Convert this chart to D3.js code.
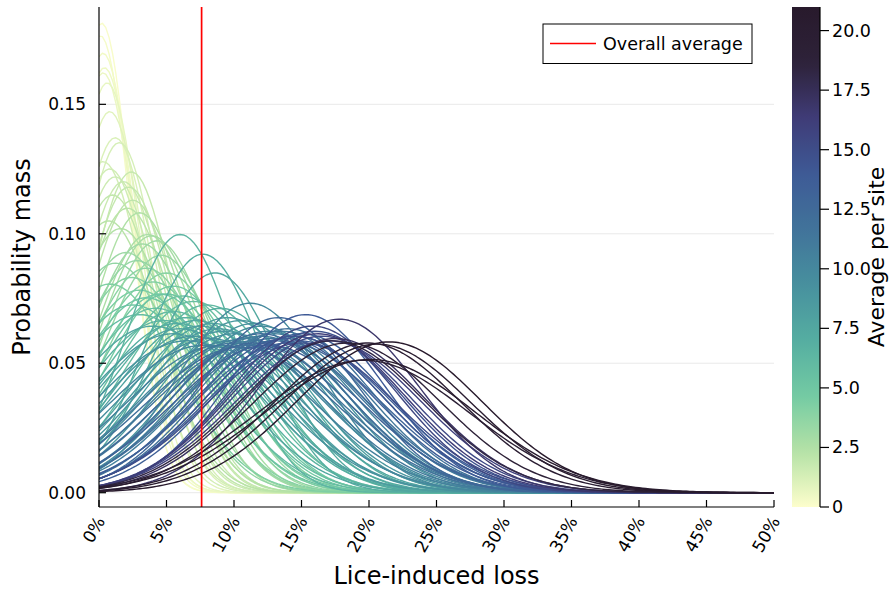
<!DOCTYPE html>
<html>
<head>
<meta charset="utf-8">
<script src="https://cdn.jsdelivr.net/npm/d3@7"></script>
<style>
  body { margin: 0; background: #fff; }
  text { font-family: "DejaVu Sans", sans-serif; fill: #000; }
</style>
</head>
<body>
<svg id="chart" width="889" height="590"></svg>
<script>
// Average lice per site (colour value of each curve)
const siteAvg = [
  0.15, 0.25, 0.35, 0.45, 0.55, 0.7,
  0.9, 1.1, 1.25, 1.35, 1.45, 1.55, 1.65, 1.75, 1.85, 1.95, 2.05, 2.15, 2.25, 2.4, 2.55,
  2.7, 2.85, 3.0, 3.1, 3.2, 3.35, 3.5, 3.6, 3.75, 3.9, 4.0, 4.15, 4.3, 4.45, 4.6, 4.8,
  5.0, 5.15, 5.3, 5.45, 5.6, 5.75, 5.9, 6.05, 6.2, 6.4, 6.55, 6.7, 6.85, 7.0, 7.15, 7.3, 7.4, 7.55, 7.7, 7.85,
  8.0, 8.15, 8.3, 8.45, 8.6, 8.75, 8.9, 9.05, 9.2, 9.35, 9.5, 9.65, 9.8, 9.95, 10.1, 10.25, 10.4, 10.55, 10.7, 10.85,
  11.0, 11.15, 11.3, 11.45, 11.6, 11.75, 11.9, 12.05, 12.2, 12.4, 12.6, 12.8, 13.0, 13.2, 13.4, 13.6, 13.8,
  14.0, 14.3, 14.6, 14.9, 15.2, 15.5, 15.9, 16.3, 16.8, 17.2,
  18.2, 18.8, 19.3, 19.8, 20.2, 20.5, 20.99
];
// Mean lice-induced loss per site (%)
const lossMean = [
  0.2, 0.1, 0.3, 0.4, 0.3, 0.6,
  0.8, 1.2, 1.5, 0.3, 0.8, 1.2, 1.8, 2.4, 2.2, 1.0, 2.5, 2.1, 0.7, 1.6, 3.0,
  3.6, 3.9, 4.3, 3.2, 2.0, 4.6, 2.8, 1.2, 3.5, 5.0, 2.4, 4.0, 0.8, 3.0, 5.5, 4.5,
  3.5, 5.0, 2.5, 6.2, 4.2, 7.0, 3.0, 5.5, 8.0, 6.0, 4.8, 6.5, 9.0, 7.7, 5.8, 7.2, 8.6, 4.0, 8.4, 6.0,
  7.5, 9.5, 5.5, 8.8, 10.5, 7.0, 9.2, 11.5, 6.5, 10.0, 8.2, 12.0, 11.2, 9.8, 7.8, 12.5, 10.8, 9.0, 13.0, 11.5,
  12.0, 10.0, 13.5, 11.0, 12.8, 14.0, 10.5, 13.0, 12.0, 14.5, 11.5, 13.3, 14.0, 12.5, 15.0, 13.8, 14.8,
  15.3, 14.5, 16.0, 15.0, 16.5, 15.8, 17.0, 16.2, 17.8, 17.5,
  17.3, 18.4, 19.6, 19.9, 20.6, 20.1, 21.5
];
// Standard deviation of the loss per site (%)
const lossSd = [
  2.20, 2.26, 2.35, 2.43, 2.46, 2.52,
  2.71, 2.91, 2.95, 3.12, 3.19, 3.27, 3.32, 3.22, 3.38, 3.47, 3.53, 3.63, 3.80, 3.91, 3.69,
  4.0, 4.02, 4.1, 4.15, 4.3, 4.35, 4.45, 4.5, 4.6, 4.7, 4.8, 4.9, 4.95, 5.1, 5.0, 5.2,
  5.3, 5.2, 5.5, 5.25, 5.6, 5.4, 5.8, 5.7, 5.5, 4.0, 6.0, 5.9, 5.6, 4.33, 6.1, 6.0, 4.7, 6.2, 6.1, 6.3,
  6.2, 5.9, 6.5, 6.3, 6.0, 6.6, 6.4, 6.1, 6.8, 6.5, 6.7, 6.2, 5.45, 6.8, 7.0, 6.4, 6.7, 7.0, 6.5, 6.8,
  6.6, 6.9, 6.4, 7.0, 6.7, 6.3, 7.1, 6.8, 6.5, 6.6, 6.9, 5.9, 6.9, 7.0, 6.5, 6.7, 6.8,
  5.8, 6.6, 6.4, 6.9, 6.6, 6.2, 6.8, 6.5, 5.95, 6.7,
  6.8, 6.9, 7.8, 6.9, 6.95, 7.75, 6.85
];
const overallAverage = 7.6;              // % loss, vertical reference line
const xTicks = [0, 5, 10, 15, 20, 25, 30, 35, 40, 45, 50];
const yTicks = [0, 0.05, 0.10, 0.15];
const cbTicks = [0, 2.5, 5, 7.5, 10, 12.5, 15, 17.5, 20];

// "deep" colour map, light yellow -> dark purple
const deepColors = ["#fdfecc", "#b5e2a6", "#74cba3", "#55aea1", "#47909e",
                    "#41739a", "#3e5a96", "#3f3c77", "#2e2239", "#281a2c"];

const svg = d3.select("#chart");
const W = 889, H = 590;
const plot = { left: 99, right: 774, top: 7, bottom: 507 };

const x = d3.scaleLinear().domain([0, 50]).range([plot.left, plot.right]);
const y = d3.scaleLinear().domain([-0.00552, 0.18759]).range([plot.bottom, plot.top]);

const cMax = d3.max(siteAvg);
const cDomain = deepColors.map((_, i) => i / (deepColors.length - 1) * cMax);
const color = d3.scaleLinear().domain(cDomain).range(deepColors)
  .interpolate(d3.interpolateRgb).clamp(true);

// horizontal grid
svg.append("g").selectAll("line").data(yTicks).join("line")
  .attr("x1", plot.left).attr("x2", plot.right)
  .attr("y1", d => y(d)).attr("y2", d => y(d))
  .attr("stroke", "#e9e9e9").attr("stroke-width", 1);

// clip region
svg.append("clipPath").attr("id", "plotclip").append("rect")
  .attr("x", plot.left).attr("y", plot.top)
  .attr("width", plot.right - plot.left).attr("height", plot.bottom - plot.top);

// normal density of each site's loss, as probability mass per 1 %
const grid = d3.range(0, 50.0001, 0.25);
const sites = siteAvg.map((c, i) => ({ c, mu: lossMean[i], sd: lossSd[i] }))
  .sort((a, b) => a.c - b.c);
const line = d3.line().x(d => x(d[0])).y(d => y(d[1])).curve(d3.curveLinear);

svg.append("g").attr("clip-path", "url(#plotclip)")
  .selectAll("path").data(sites).join("path")
  .attr("d", s => line(grid.map(v => [v,
      Math.exp(-((v - s.mu) ** 2) / (2 * s.sd * s.sd)) / (s.sd * Math.sqrt(2 * Math.PI))])))
  .attr("fill", "none")
  .attr("stroke", s => color(s.c))
  .attr("stroke-width", 1.4)
  .attr("stroke-linejoin", "round");

// overall average
svg.append("line")
  .attr("x1", x(overallAverage)).attr("x2", x(overallAverage))
  .attr("y1", plot.top).attr("y2", plot.bottom)
  .attr("stroke", "#ff0000").attr("stroke-width", 1.7);

// axes
const axes = svg.append("g");
axes.append("line").attr("x1", plot.left).attr("x2", plot.left)
  .attr("y1", plot.top).attr("y2", plot.bottom).attr("stroke", "#000").attr("stroke-width", 1.2);
axes.append("line").attr("x1", plot.left).attr("x2", plot.right)
  .attr("y1", plot.bottom).attr("y2", plot.bottom).attr("stroke", "#000").attr("stroke-width", 1.2);

axes.selectAll(".xt").data(xTicks).join("line")
  .attr("x1", d => x(d)).attr("x2", d => x(d))
  .attr("y1", plot.bottom).attr("y2", plot.bottom - 7)
  .attr("stroke", "#000").attr("stroke-width", 1.2);
axes.selectAll(".xl").data(xTicks).join("text")
  .attr("transform", d => `translate(${x(d) + 1.5},${plot.bottom + 11}) rotate(-60)`)
  .attr("text-anchor", "end").attr("dominant-baseline", "central")
  .attr("font-size", 17).text(d => d + "%");

axes.selectAll(".yt").data(yTicks).join("line")
  .attr("x1", plot.left).attr("x2", plot.left + 7)
  .attr("y1", d => y(d)).attr("y2", d => y(d))
  .attr("stroke", "#000").attr("stroke-width", 1.2);
axes.selectAll(".yl").data(yTicks).join("text")
  .attr("x", 86).attr("y", d => y(d))
  .attr("text-anchor", "end").attr("dominant-baseline", "central")
  .attr("font-size", 17).text(d => d3.format(".2f")(d));

svg.append("text").attr("x", (plot.left + plot.right) / 2).attr("y", 584)
  .attr("text-anchor", "middle").attr("font-size", 24).text("Lice-induced loss");
svg.append("text").attr("transform", `translate(30,${(plot.top + plot.bottom) / 2}) rotate(-90)`)
  .attr("text-anchor", "middle").attr("font-size", 24).text("Probability mass");

// legend
const lg = svg.append("g");
lg.append("rect").attr("x", 543).attr("y", 24).attr("width", 209).attr("height", 39.5)
  .attr("fill", "#fff").attr("stroke", "#000").attr("stroke-width", 1);
lg.append("line").attr("x1", 550).attr("x2", 596).attr("y1", 43.5).attr("y2", 43.5)
  .attr("stroke", "#ff0000").attr("stroke-width", 1.7);
lg.append("text").attr("x", 603).attr("y", 43.5).attr("dominant-baseline", "central")
  .attr("font-size", 17.5).text("Overall average");

// colour bar
const cb = { left: 792, right: 820 };
const cy = d3.scaleLinear().domain([0, cMax]).range([plot.bottom, plot.top]);
const grad = svg.append("defs").append("linearGradient").attr("id", "cbgrad")
  .attr("x1", 0).attr("y1", 1).attr("x2", 0).attr("y2", 0);
d3.range(0, 1.0001, 0.02).forEach(t => {
  grad.append("stop").attr("offset", t).attr("stop-color", color(t * cMax));
});
svg.append("rect").attr("x", cb.left).attr("y", plot.top)
  .attr("width", cb.right - cb.left).attr("height", plot.bottom - plot.top)
  .attr("fill", "url(#cbgrad)");
svg.append("line").attr("x1", cb.right).attr("x2", cb.right)
  .attr("y1", plot.top).attr("y2", plot.bottom).attr("stroke", "#000").attr("stroke-width", 1.2);
svg.selectAll(".ct").data(cbTicks).join("line")
  .attr("x1", cb.right).attr("x2", cb.right + 9)
  .attr("y1", d => cy(d)).attr("y2", d => cy(d))
  .attr("stroke", "#000").attr("stroke-width", 1.2);
svg.selectAll(".cl").data(cbTicks).join("text")
  .attr("x", 832).attr("y", d => cy(d)).attr("dominant-baseline", "central")
  .attr("font-size", 17.5).text(d => d === 0 ? "0" : d.toFixed(1));
svg.append("text").attr("transform", `translate(884,${(plot.top + plot.bottom) / 2}) rotate(-90)`)
  .attr("text-anchor", "middle").attr("font-size", 22).text("Average per site");
</script>
</body>
</html>
